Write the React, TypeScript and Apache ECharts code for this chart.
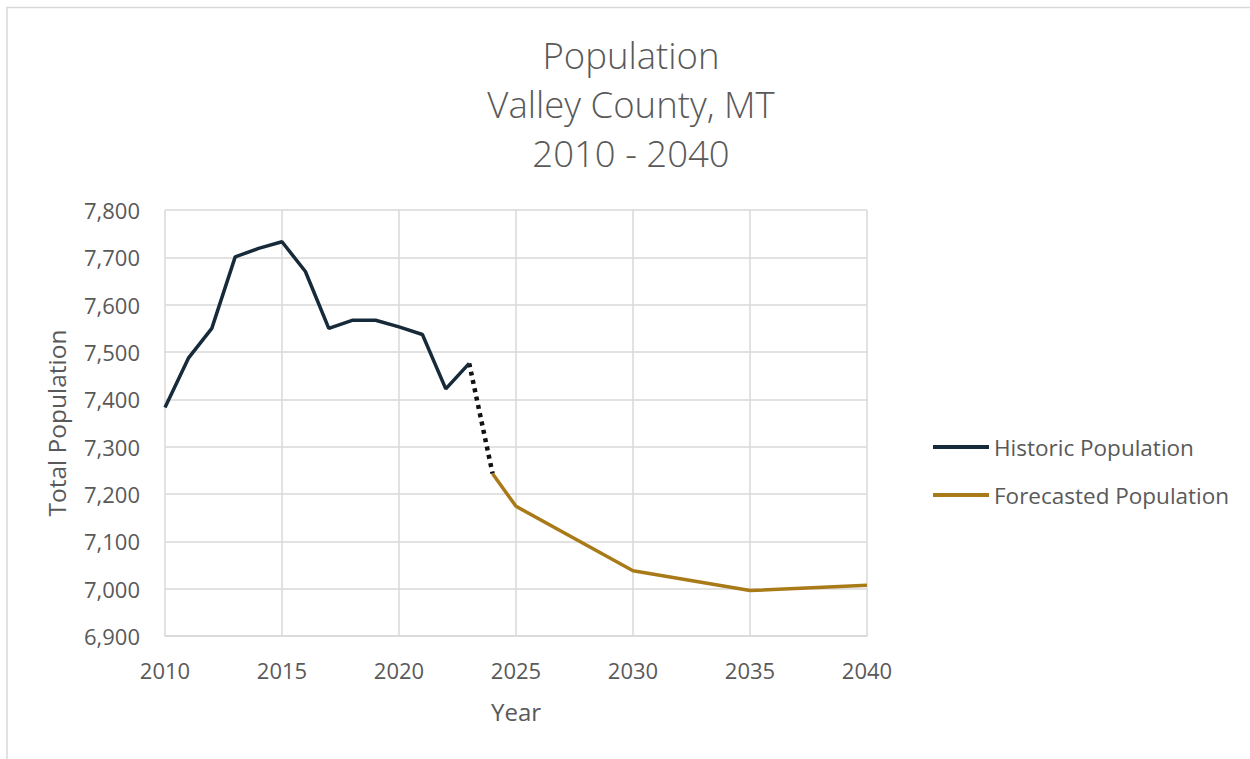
import React, { useEffect, useRef } from "react";
import * as echarts from "echarts";

const historicYears = [2010, 2011, 2012, 2013, 2014, 2015, 2016, 2017, 2018, 2019, 2020, 2021, 2022, 2023];
const historicValues = [7383, 7487, 7550, 7701, 7719, 7733, 7670, 7550, 7567, 7567, 7553, 7537, 7422, 7476];

const connectorYears = [2023, 2024];
const connectorValues = [7476, 7243];

const forecastYears = [2024, 2025, 2030, 2035, 2040];
const forecastValues = [7243, 7174, 7038, 6996, 7007];

const titleLines = ["Population", "Valley County, MT", "2010 - 2040"];

const FONT = "'Open Sans', 'Noto Sans', sans-serif";
const TEXT = "#595959";
const GRID = "#d9d9d9";

export default function App() {
  const ref = useRef<HTMLDivElement>(null);

  useEffect(() => {
    if (!ref.current) return;
    const chart = echarts.init(ref.current, null, { renderer: "svg" });
    const pair = (xs: number[], ys: number[]) => xs.map((x, i) => [x, ys[i]]);
    chart.setOption({
      animation: false,
      backgroundColor: "#ffffff",
      textStyle: { fontFamily: FONT },
      title: {
        text: titleLines.join("\n"),
        left: 626,
        textAlign: "center",
        top: 25,
        textStyle: {
          fontFamily: FONT,
          fontSize: 36.5,
          fontWeight: 300,
          lineHeight: 49,
          color: TEXT,
        },
      },
      graphic: [
        {
          type: "rect",
          shape: { x: 7, y: 7.5, width: 1400, height: 900 },
          style: { fill: "none", stroke: GRID, lineWidth: 1.5 },
          silent: true,
        },
      ],
      legend: {
        orient: "vertical",
        left: 933,
        top: 434,
        padding: 0,
        itemGap: 22,
        itemWidth: 56,
        itemHeight: 4,
        icon: "rect",
        data: ["Historic Population", "Forecasted Population"],
        textStyle: { fontFamily: FONT, fontSize: 22.5, color: TEXT, lineHeight: 26 },
      },
      grid: { left: 165, right: 383, top: 210, bottom: 123, containLabel: false },
      xAxis: {
        type: "value",
        min: 2010,
        max: 2040,
        interval: 5,
        name: "Year",
        nameLocation: "middle",
        nameGap: 63,
        nameTextStyle: { fontFamily: FONT, fontSize: 24, color: TEXT },
        axisLine: { show: true, lineStyle: { color: GRID, width: 1.5 } },
        axisTick: { show: false },
        axisLabel: {
          fontFamily: FONT,
          fontSize: 22,
          color: TEXT,
          margin: 23,
          formatter: (v: number) => String(v),
        },
        splitLine: { show: true, lineStyle: { color: GRID, width: 1.5 } },
      },
      yAxis: {
        type: "value",
        min: 6900,
        max: 7800,
        interval: 100,
        name: "Total Population",
        nameLocation: "middle",
        nameGap: 96,
        nameTextStyle: { fontFamily: FONT, fontSize: 24.5, color: TEXT },
        axisLine: { show: false },
        axisTick: { show: false },
        axisLabel: {
          fontFamily: FONT,
          fontSize: 22,
          color: TEXT,
          margin: 25,
          formatter: (v: number) => v.toLocaleString("en-US"),
        },
        splitLine: { show: true, lineStyle: { color: GRID, width: 1.5 } },
      },
      series: [
        {
          name: "Historic Population",
          type: "line",
          data: pair(historicYears, historicValues),
          symbol: "none",
          color: "#172a3a",
          lineStyle: { color: "#172a3a", width: 3.5 },
          z: 3,
        },
        {
          name: "connector",
          type: "line",
          data: pair(connectorYears, connectorValues),
          symbol: "none",
          color: "#111111",
          lineStyle: { color: "#111111", width: 4.5, type: [4, 4.5], cap: "butt" },
          z: 2,
        },
        {
          name: "Forecasted Population",
          type: "line",
          data: pair(forecastYears, forecastValues),
          symbol: "none",
          color: "#a87a18",
          lineStyle: { color: "#a87a18", width: 3.5 },
          z: 3,
        },
      ],
    });
    return () => chart.dispose();
  }, []);

  return (
    <div
      ref={ref}
      style={{ position: "fixed", left: 0, top: 0, width: 1250, height: 759 }}
    />
  );
}
